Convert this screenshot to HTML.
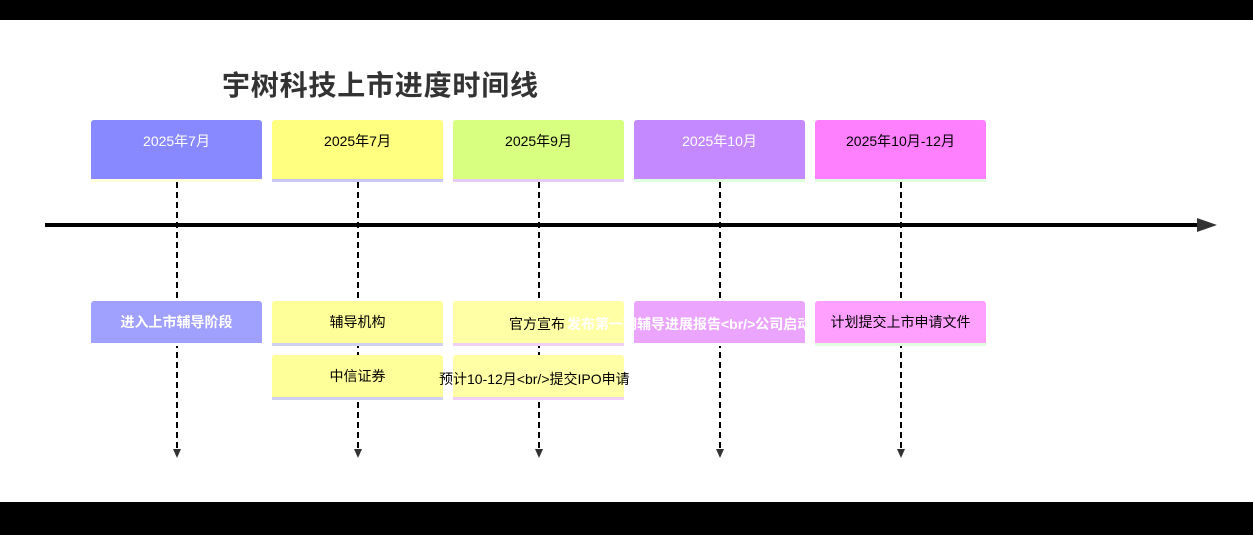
<!DOCTYPE html>
<html><head><meta charset="utf-8"><style>
body{margin:0;width:1253px;height:535px;background:#fff;position:relative;overflow:hidden;font-family:"Liberation Sans","Noto Sans CJK SC",sans-serif}
.bar{position:absolute;left:0;width:1253px;background:#000}
.b{position:absolute;width:171px;border-radius:3px 3px 0 0;display:flex;align-items:center;justify-content:center;font-size:14px;white-space:nowrap;box-sizing:border-box}
.h{top:120px;height:62px;padding-bottom:18px}
.e{height:45px;border-bottom-width:3px;border-bottom-style:solid}
.e1{top:301px}.e2{top:355px}
</style></head><body>
<div class="bar" style="top:0;height:20px"></div>
<div class="bar" style="top:502px;height:33px"></div>
<div style="position:absolute;left:222px;top:64px;font-size:28px;letter-spacing:0.8px;font-weight:bold;color:#333">宇树科技上市进度时间线</div>

<div class="b h" style="left:91px;background:#8888ff;color:#fff;border-bottom:3px solid #ffffde">2025年7月</div>
<div class="b h" style="left:272px;background:#ffff80;color:#000;border-bottom:3px solid #c8c8f0">2025年7月</div>
<div class="b h" style="left:453px;background:#d9ff80;color:#000;border-bottom:3px solid #e4ccf4">2025年9月</div>
<div class="b h" style="left:634px;background:#c488ff;color:#fff;border-bottom:3px solid #e0ffe0">2025年10月</div>
<div class="b h" style="left:815px;background:#ff80ff;color:#000;border-bottom:3px solid #e0ffe0">2025年10月-12月</div>

<svg style="position:absolute;left:0;top:0" width="1253" height="535">
<line x1="45" y1="225" x2="1200" y2="225" stroke="#000" stroke-width="4"/>
<polygon points="1197,218 1217,225 1197,232" fill="#333"/>
<g stroke="#000" stroke-width="2" stroke-dasharray="6,4">
<line x1="177" y1="182" x2="177" y2="450"/><line x1="358" y1="182" x2="358" y2="450"/><line x1="539" y1="182" x2="539" y2="450"/><line x1="720" y1="182" x2="720" y2="450"/><line x1="901" y1="182" x2="901" y2="450"/>
</g>
<g fill="#333"><polygon points="173,449 181,449 177,458"/><polygon points="354,449 362,449 358,458"/><polygon points="535,449 543,449 539,458"/><polygon points="716,449 724,449 720,458"/><polygon points="897,449 905,449 901,458"/></g>
</svg>

<div class="b e e1" style="left:91px;background:#a0a0ff;color:#fff;font-weight:bold;border-bottom-color:#fff">进入上市辅导阶段</div>
<div class="b e e1" style="left:272px;background:#ffff99;border-bottom-color:#d0d0f0">辅导机构</div>
<div class="b e e2" style="left:272px;background:#ffff99;border-bottom-color:#d0d0f0">中信证券</div>
<div class="b e e1" style="left:453px;background:#ffffa6;border-bottom-color:#f0d0f4"></div>
<div class="b e e2" style="left:453px;background:#ffffa6;border-bottom-color:#f0d0f4"></div>
<div class="b e e1" style="left:634px;background:#eba5ff;border-bottom-color:#fff"></div>
<div class="b e e1" style="left:815px;background:#ffa0ff;border-bottom-color:#e0ffe0">计划提交上市申请文件</div>
<div style="position:absolute;left:509px;top:314px;font-size:14px">官方宣布</div>
<div style="position:absolute;left:567px;top:314px;width:239px;overflow:hidden;white-space:nowrap;font-size:14px;color:#fff;font-weight:bold">发布第一期辅导进展报告&lt;br/&gt;公司启动</div>
<div style="position:absolute;left:439px;top:369px;font-size:14px;white-space:nowrap">预计10-12月&lt;br/&gt;提交IPO申请</div>
</body></html>
